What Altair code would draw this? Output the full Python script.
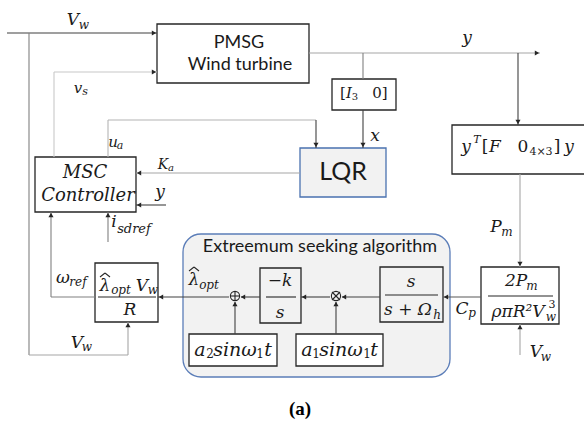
import altair as alt
import pandas as pd

W, H = 584, 425

# ---------------- blocks ----------------
block_x1 = [157, 332, 452, 35, 300, 95, 260, 380, 481, 189, 296]
block_x2 = [309, 396, 600, 136, 386, 158, 301, 443, 559, 277, 383]
block_y1 = [24, 79, 125, 157, 148, 263, 268, 267, 267, 334, 334]
block_y2 = [83, 110, 174, 212, 197, 322, 323, 322, 324, 366, 366]
block_fill = ["white", "white", "white", "white", "#f2f2f2", "white",
              "#f2f2f2", "#f2f2f2", "white", "white", "white"]
block_stroke = ["#262626", "#262626", "#262626", "#262626", "#4a72b0", "#262626",
                "#262626", "#262626", "#262626", "#262626", "#262626"]

# extremum seeking group
group_x1, group_x2, group_y1, group_y2 = [183], [450], [234], [377]

# ---------------- connecting segments (incl. fraction bars, junction crosses, hats) ----------------
seg_x1 = [7, 29, 29, 128, 54, 54, 108, 108, 316, 309, 363, 363, 518, 300, 166, 108, 51, 51,
          229, 260, 330, 380, 481, 235, 336, 520, 520,
          98, 266, 385, 488,
          231, 235, 332, 332,
          100, 105, 189, 194]
seg_y1 = [33, 33, 355, 355, 72, 72, 120, 120, 120, 53, 53, 110, 53, 173, 205, 242, 297, 297,
          297, 297, 297, 297, 297, 334, 334, 174, 355,
          297, 297, 295, 296,
          296, 292, 292, 300,
          277, 273, 271, 267]
seg_x2 = [157, 29, 128, 128, 157, 54, 316, 108, 316, 540, 363, 363, 518, 136, 136, 108, 51, 95,
          158, 241, 301, 342, 443, 235, 336, 520, 520,
          156, 296, 438, 553,
          239, 235, 340, 340,
          105, 110, 194, 199]
seg_y2 = [33, 355, 355, 322, 72, 157, 120, 157, 148, 53, 79, 148, 125, 173, 205, 212, 212, 297,
          297, 297, 297, 297, 297, 302, 302, 267, 324,
          297, 297, 295, 296,
          296, 300, 300, 292,
          273, 277, 267, 271]
seg_col = ["#404040", "#808080", "#a6a6a6", "#a6a6a6", "#c8c8c8", "#c8c8c8", "#b4b4b4", "#b4b4b4",
           "#404040", "#a6a6a6", "#808080", "#404040", "#404040", "#a6a6a6", "#404040", "#808080",
           "#808080", "#808080",
           "#404040", "#404040", "#404040", "#404040", "#595959", "#404040", "#404040", "#a6a6a6",
           "#a6a6a6",
           "#262626", "#262626", "#262626", "#262626",
           "#262626", "#262626", "#262626", "#262626",
           "#262626", "#262626", "#262626", "#262626"]

# ---------------- arrow heads ----------------
arr_x = [154, 154, 316, 363, 537, 518, 139, 139, 108, 51, 161, 128, 243, 304, 344, 446, 235, 336, 520, 520]
arr_y = [33, 72, 145, 145, 53, 122, 173, 205, 215, 215, 297, 325, 297, 297, 297, 297, 304, 304, 264, 327]
arr_dir = ["triangle-right", "triangle-right", "triangle-down", "triangle-down", "triangle-right",
           "triangle-down", "triangle-left", "triangle-left", "triangle-up", "triangle-up",
           "triangle-left", "triangle-up", "triangle-left", "triangle-left", "triangle-left",
           "triangle-left", "triangle-up", "triangle-up", "triangle-down", "triangle-up"]

# summing / multiplying junctions
junc_x = [235, 336]
junc_y = [296, 296]

# ---------------- texts ----------------
sans_text = ["PMSG", "Wind turbine", "LQR", "Extreemum seeking algorithm"]
sans_x = [239, 240, 343, 320]
sans_y = [43, 65, 172, 247]
sans_size = [18, 18, 25, 18]

ital_text = ["V", "w", "v", "s", "u", "a", "y", "I", "x",
             "y", "T", "F", "y", "P", "m", "K", "a", "y", "i", "sdref",
             "MSC", "Controller", "ω", "ref",
             "λ", "opt", "V", "w", "R", "V", "w",
             "λ", "opt", "−k", "s",
             "a", "sinω", "t", "a", "sinω", "t",
             "s", "s + Ω", "h", "C", "p", "2P", "m", "ρπR²V", "w", "V", "w"]
ital_x = [73, 84, 78, 85, 113, 120, 467, 349, 375,
          466, 477, 495, 569, 496, 507, 163, 171, 160, 114, 134,
          85, 88, 63, 78,
          105, 121, 142, 153, 130, 77, 87,
          194, 209, 280, 280,
          200, 235, 268, 307, 341, 374,
          411, 408, 437, 462, 472, 516, 532, 518, 551, 536, 546]
ital_y = [20, 25, 88, 92, 142, 146, 38, 93, 136,
          147, 140, 147, 147, 227, 232, 165, 168, 192, 222, 229,
          173, 196, 278, 282,
          286, 290, 286, 290, 310, 343, 347,
          280, 285, 281, 313,
          350, 350, 350, 350, 350, 350,
          282, 310, 315, 309, 313, 281, 286, 312, 317, 352, 357]
ital_size = [17, 12, 15, 11, 15, 11, 17, 15, 17,
             17, 11, 17, 17, 17, 12, 14, 10, 17, 17, 13,
             18, 18, 17, 12,
             17, 12, 17, 12, 17, 17, 12,
             17, 12, 17, 17,
             19, 19, 19, 19, 19, 19,
             17, 17, 12, 17, 12, 17, 12, 17, 12, 17, 12]

up_text = ["[", "3", "0]", "[", "0", "4×3", "]", "3",
           "2", "1", "1", "1"]
up_x = [343, 355, 380, 485, 523, 541, 557, 552,
        210, 260, 316, 367]
up_y = [93, 97, 93, 147, 147, 152, 147, 305,
        354, 354, 354, 354]
up_size = [15, 10, 15, 17, 17, 11, 17, 11,
           12, 12, 12, 12]

cap_text = ["(a)"]
cap_x = [300]
cap_y = [409]

# ---------------- build ----------------
xs = alt.Scale(domain=[0, W], range=[0, W], nice=False, zero=False)
ys = alt.Scale(domain=[0, H], range=[0, H], nice=False, zero=False)


def X(f):
    return alt.X(f, type="quantitative", scale=xs, axis=None)


def Y(f):
    return alt.Y(f, type="quantitative", scale=ys, axis=None)


blocks = pd.DataFrame(dict(x1=block_x1, x2=block_x2, y1=block_y1, y2=block_y2,
                           fill=block_fill, stroke=block_stroke))
group = pd.DataFrame(dict(x1=group_x1, x2=group_x2, y1=group_y1, y2=group_y2))
segs = pd.DataFrame(dict(x1=seg_x1, y1=seg_y1, x2=seg_x2, y2=seg_y2, c=seg_col))
arrows = pd.DataFrame(dict(x=arr_x, y=arr_y, d=arr_dir))
juncs = pd.DataFrame(dict(x=junc_x, y=junc_y))
sans = pd.DataFrame(dict(x=sans_x, y=sans_y, t=sans_text, s=sans_size))
ital = pd.DataFrame(dict(x=ital_x, y=ital_y, t=ital_text, s=ital_size))
upr = pd.DataFrame(dict(x=up_x, y=up_y, t=up_text, s=up_size))
cap = pd.DataFrame(dict(x=cap_x, y=cap_y, t=cap_text))

group_layer = alt.Chart(group).mark_rect(
    fill="#f2f2f2", stroke="#5b7db8", strokeWidth=1.3, cornerRadius=18
).encode(x=X("x1"), x2="x2", y=Y("y1"), y2="y2")

block_layer = alt.Chart(blocks).mark_rect(strokeWidth=1.3, clip=True).encode(
    x=X("x1"), x2="x2", y=Y("y1"), y2="y2",
    fill=alt.Fill("fill:N", scale=None), stroke=alt.Stroke("stroke:N", scale=None))

seg_layer = alt.Chart(segs).mark_rule(strokeWidth=1.1).encode(
    x=X("x1"), y=Y("y1"), x2="x2", y2="y2", color=alt.Color("c:N", scale=None))

junc_layer = alt.Chart(juncs).mark_point(
    shape="circle", filled=False, size=85, strokeWidth=1.1, color="#262626", opacity=1
).encode(x=X("x"), y=Y("y"))

arrow_layer = alt.Chart(arrows).mark_point(filled=True, size=26, opacity=1, color="#262626").encode(
    x=X("x"), y=Y("y"), shape=alt.Shape("d:N", scale=None))

sans_layer = alt.Chart(sans).mark_text(font="Lato", align="center", baseline="middle",
                                       color="#1a1a1a").encode(
    x=X("x"), y=Y("y"), text="t:N", size=alt.Size("s:Q", scale=None))

ital_layer = alt.Chart(ital).mark_text(font="DejaVu Serif", fontStyle="italic", align="center",
                                       baseline="middle", color="#1a1a1a").encode(
    x=X("x"), y=Y("y"), text="t:N", size=alt.Size("s:Q", scale=None))

up_layer = alt.Chart(upr).mark_text(font="DejaVu Serif", align="center",
                                    baseline="middle", color="#1a1a1a").encode(
    x=X("x"), y=Y("y"), text="t:N", size=alt.Size("s:Q", scale=None))

cap_layer = alt.Chart(cap).mark_text(font="Liberation Serif", fontWeight="bold", fontSize=19,
                                     align="center", baseline="middle", color="black").encode(
    x=X("x"), y=Y("y"), text="t:N")

chart = alt.layer(group_layer, block_layer, seg_layer, junc_layer, arrow_layer,
                  sans_layer, ital_layer, up_layer, cap_layer).properties(
    width=W, height=H, padding=0, autosize=alt.AutoSizeParams(type="none"),
    background="white"
).configure_view(stroke=None)

chart.save("out.html", embed_options={"renderer": "svg", "actions": False})
